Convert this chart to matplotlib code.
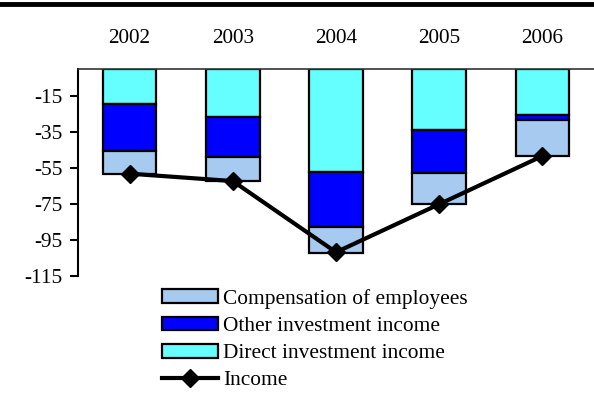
import matplotlib
matplotlib.use("Agg")
import matplotlib.pyplot as plt
from matplotlib.lines import Line2D
import numpy as np

# --- Data ---
years = ["2002", "2003", "2004", "2005", "2006"]
direct_inv = [-19.4, -26.6, -57.5, -34.0, -25.9]
other_inv = [-26.1, -22.6, -30.1, -24.0, -2.6]
compensation = [-12.9, -13.3, -14.4, -17.2, -19.9]
income = [-58.2, -62.3, -101.7, -75.1, -48.4]
y_ticks = [-15, -35, -55, -75, -95, -115]

plt.rcParams["font.family"] = ["Liberation Serif", "DejaVu Serif"]
plt.rcParams["axes.unicode_minus"] = False

fig = plt.figure(figsize=(5.94, 4.05), dpi=100)
ax = fig.add_axes([0.1313, 0.318, 0.8687, 0.5126])

x = np.arange(len(years))
w = 0.52
edge = dict(edgecolor="black", linewidth=1.6)

b1 = ax.bar(x, direct_inv, w, color="#66FFFF", label="Direct investment income", **edge)
b2 = ax.bar(x, other_inv, w, bottom=direct_inv, color="#0000FF", label="Other investment income", **edge)
bottom2 = np.array(direct_inv) + np.array(other_inv)
b3 = ax.bar(x, compensation, w, bottom=bottom2, color="#A6CAF0", label="Compensation of employees", **edge)
ln, = ax.plot(x, income, color="black", linewidth=3, marker="D", markersize=9, label="Income")

ax.set_xlim(-0.5, 4.5)
ax.set_ylim(-115, 0)
ax.set_yticks(y_ticks)
ax.set_xticks(x)
ax.set_xticklabels(years)
ax.xaxis.tick_top()
ax.tick_params(axis="x", length=0, pad=14.5, labelsize=15.3)
ax.tick_params(axis="y", length=6, width=1.5, pad=5, labelsize=15.3)

ax.spines["right"].set_visible(False)
ax.spines["bottom"].set_visible(False)
ax.spines["left"].set_linewidth(1.5)
ax.spines["top"].set_linewidth(1.2)
ax.spines["top"].set_color("#333333")

# thick rule at the very top of the figure
fig.add_artist(Line2D([0, 1], [1 - 4 / 405, 1 - 4 / 405], color="black", linewidth=3.5))

fig.legend([b3, b2, b1, ln],
           ["Compensation of employees", "Other investment income",
            "Direct investment income", "Income"],
           loc="upper left", bbox_to_anchor=(162 / 594, 1 - 289 / 405),
           frameon=False, fontsize=15.4, handlelength=2.6, handleheight=0.62,
           handletextpad=0.24, labelspacing=0.36, borderpad=0, borderaxespad=0)

plt.savefig("out.png", dpi=100)
